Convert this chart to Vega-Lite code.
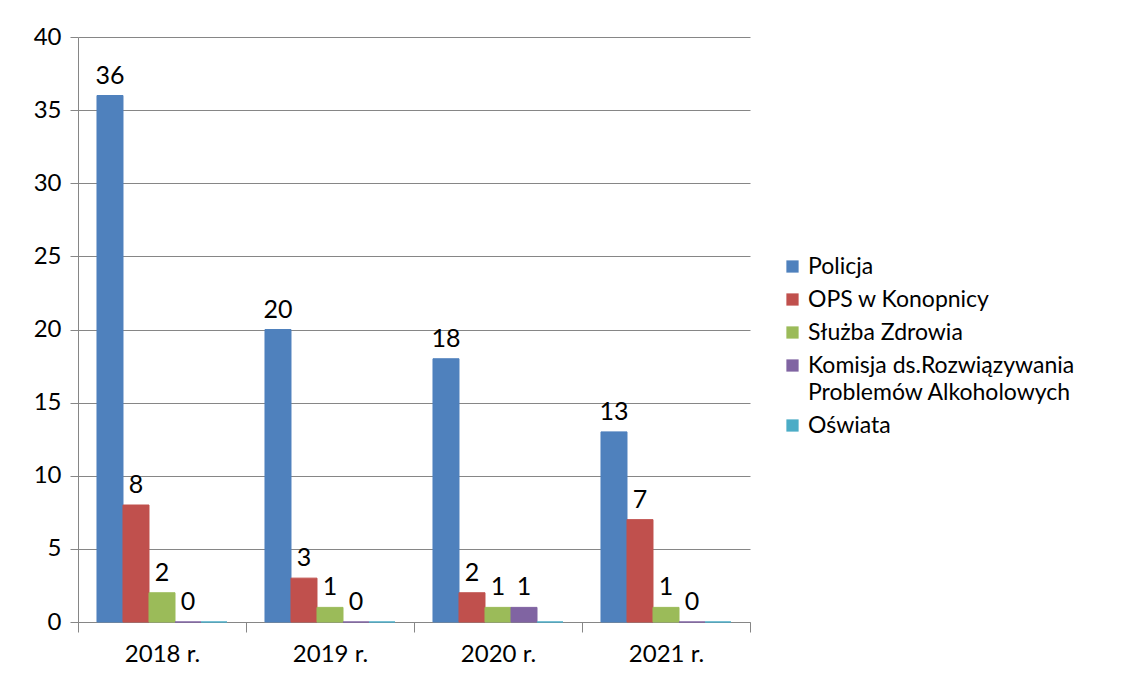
{
  "$schema": "https://vega.github.io/schema/vega-lite/v6.json",
  "width": 672,
  "height": 585,
  "autosize": {"type": "none"},
  "padding": {"left": 78, "top": 37, "right": 394, "bottom": 53},
  "background": "white",
  "config": {
    "font": "Lato",
    "view": {"stroke": null},
    "axis": {"labelFont": "Lato", "labelFontSize": 24, "labelColor": "#000000"},
    "style": {"guide-label": {"lineHeight": 27}}
  },
  "data": {
    "values": [
      {"year": "2018 r.", "series": "Policja", "value": 36},
      {"year": "2018 r.", "series": "OPS w Konopnicy", "value": 8},
      {"year": "2018 r.", "series": "Służba Zdrowia", "value": 2},
      {"year": "2018 r.", "series": "Komisja ds.Rozwiązywania Problemów Alkoholowych", "value": 0},
      {"year": "2018 r.", "series": "Oświata", "value": 0},
      {"year": "2019 r.", "series": "Policja", "value": 20},
      {"year": "2019 r.", "series": "OPS w Konopnicy", "value": 3},
      {"year": "2019 r.", "series": "Służba Zdrowia", "value": 1},
      {"year": "2019 r.", "series": "Komisja ds.Rozwiązywania Problemów Alkoholowych", "value": 0},
      {"year": "2019 r.", "series": "Oświata", "value": 0},
      {"year": "2020 r.", "series": "Policja", "value": 18},
      {"year": "2020 r.", "series": "OPS w Konopnicy", "value": 2},
      {"year": "2020 r.", "series": "Służba Zdrowia", "value": 1},
      {"year": "2020 r.", "series": "Komisja ds.Rozwiązywania Problemów Alkoholowych", "value": 1},
      {"year": "2020 r.", "series": "Oświata", "value": 0},
      {"year": "2021 r.", "series": "Policja", "value": 13},
      {"year": "2021 r.", "series": "OPS w Konopnicy", "value": 7},
      {"year": "2021 r.", "series": "Służba Zdrowia", "value": 1},
      {"year": "2021 r.", "series": "Komisja ds.Rozwiązywania Problemów Alkoholowych", "value": 0},
      {"year": "2021 r.", "series": "Oświata", "value": 0}
    ]
  },
  "encoding": {
    "x": {
      "field": "year", "type": "nominal", "title": null,
      "scale": {"paddingInner": 0, "paddingOuter": 0},
      "axis": {
        "labelAngle": 0, "tickBand": "extent", "tickSize": 10, "tickColor": "#868686",
        "domainColor": "#868686", "labelPadding": 10, "grid": false
      }
    },
    "xOffset": {
      "field": "series", "type": "nominal",
      "scale": {
        "domain": ["Policja", "OPS w Konopnicy", "Służba Zdrowia", "Komisja ds.Rozwiązywania Problemów Alkoholowych", "Oświata"],
        "paddingInner": 0, "paddingOuter": 0.73
      }
    },
    "y": {
      "field": "value", "type": "quantitative", "title": null,
      "scale": {"domain": [0, 40], "nice": false},
      "axis": {
        "values": [0, 5, 10, 15, 20, 25, 30, 35, 40],
        "tickSize": 8, "tickColor": "#868686", "domainColor": "#868686",
        "gridColor": "#868686", "gridOpacity": 1, "labelPadding": 9
      }
    }
  },
  "layer": [
    {
      "mark": {"type": "bar", "strokeWidth": 1},
      "encoding": {
        "color": {
          "field": "series", "type": "nominal",
          "scale": {
            "domain": ["Policja", "OPS w Konopnicy", "Służba Zdrowia", "Komisja ds.Rozwiązywania Problemów Alkoholowych", "Oświata"],
            "range": ["#4F81BD", "#C0504D", "#9BBB59", "#8064A2", "#4BACC6"]
          },
          "legend": {
            "title": null, "orient": "none", "legendX": 703, "legendY": 218,
            "symbolType": "square", "symbolSize": 150, "symbolStrokeWidth": 0,
            "labelFont": "Lato", "labelFontSize": 23, "labelColor": "#000000",
            "labelLimit": 400, "rowPadding": 9, "labelOffset": 4,
            "labelExpr": "datum.label == 'Komisja ds.Rozwiązywania Problemów Alkoholowych' ? ['Komisja ds.Rozwiązywania', 'Problemów Alkoholowych'] : datum.label"
          }
        },
        "stroke": {
          "field": "series", "type": "nominal",
          "scale": {
            "domain": ["Policja", "OPS w Konopnicy", "Służba Zdrowia", "Komisja ds.Rozwiązywania Problemów Alkoholowych", "Oświata"],
            "range": ["#4F81BD", "#C0504D", "#9BBB59", "#8064A2", "#4BACC6"]
          },
          "legend": null
        }
      }
    },
    {
      "transform": [{"filter": "datum.series != 'Oświata'"}],
      "mark": {"type": "text", "baseline": "alphabetic", "dy": -12, "fontSize": 25, "font": "Lato", "color": "#000000"},
      "encoding": {
        "text": {"field": "value", "type": "quantitative"}
      }
    }
  ]
}
